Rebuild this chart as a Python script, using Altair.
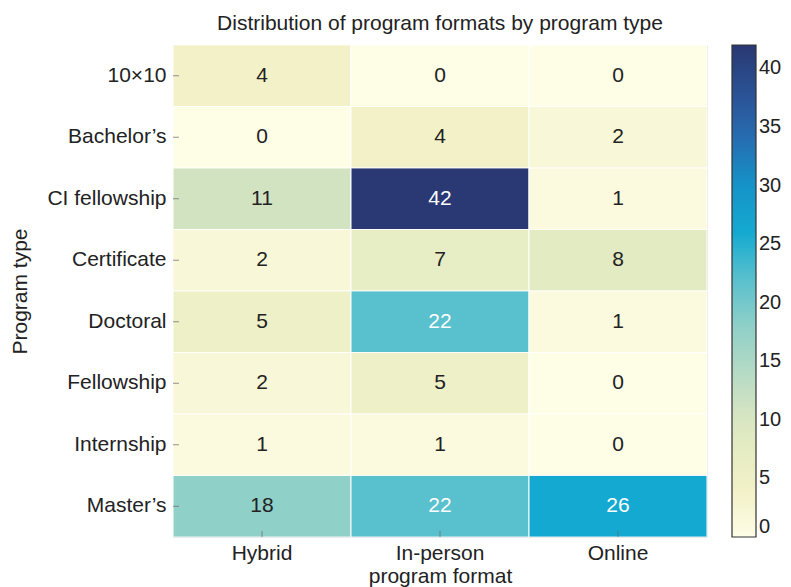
import altair as alt
import pandas as pd

program_types = ["10×10", "Bachelor’s", "CI fellowship", "Certificate",
                 "Doctoral", "Fellowship", "Internship", "Master’s"]
formats = ["Hybrid", "In-person", "Online"]
hybrid = [4, 0, 11, 2, 5, 2, 1, 18]
in_person = [0, 4, 42, 7, 22, 5, 1, 22]
online = [0, 2, 1, 8, 1, 0, 0, 26]

rows = []
for i, t in enumerate(program_types):
    for f, vals in zip(formats, [hybrid, in_person, online]):
        rows.append({"type": t, "format": f, "count": vals[i]})
df = pd.DataFrame(rows)

color_domain = [0, 4, 8, 11, 18, 22, 26, 30, 35, 42]
color_range = ["#fefde6", "#f2f1c8", "#e3ebc2", "#d2e3c2", "#8fd0c8",
               "#59c0cd", "#14a9d0", "#1593c8", "#2a64ab", "#2a3873"]

W, H = 534, 492
FONT = "Liberation Sans"
FS = 21

x_enc = alt.X("format:N", sort=formats, scale=alt.Scale(paddingInner=0, paddingOuter=0),
              axis=alt.Axis(title="program format", labelAngle=0, ticks=False, domain=False,
                            labelFontSize=FS, labelPadding=5, labelColor="#222",
                            titleFontSize=FS, titleFontWeight="normal", titleColor="#222",
                            titleBaseline="top", titleY=28))
y_enc = alt.Y("type:N", sort=program_types, scale=alt.Scale(paddingInner=0, paddingOuter=0),
              axis=alt.Axis(title="Program type", ticks=False, domain=False,
                            labelFontSize=FS, labelPadding=7, labelColor="#222",
                            titleFontSize=FS, titleFontWeight="normal", titleColor="#222",
                            titleAngle=-90, titleX=-153, titleY=H / 2,
                            titleBaseline="middle", titleAlign="center"))

base = alt.Chart(df)

rects = base.mark_rect(stroke="white", strokeWidth=1.2, strokeOpacity=0.85).encode(
    x=x_enc, y=y_enc,
    color=alt.Color("count:Q",
                    scale=alt.Scale(domain=color_domain, range=color_range, interpolate="rgb"),
                    legend=alt.Legend(title=None, gradientLength=H, gradientThickness=24,
                                      gradientStrokeColor="#333", gradientStrokeWidth=1.2,
                                      labelFontSize=20, labelColor="#222", labelFont=FONT,
                                      values=[0, 5, 10, 15, 20, 25, 30, 35, 40],
                                      labelOverlap=False, offset=25, padding=0,
                                      labelOffset=3, direction="vertical")),
)

texts = base.mark_text(fontSize=FS, font=FONT).encode(
    x=alt.X("format:N", sort=formats),
    y=alt.Y("type:N", sort=program_types),
    text="count:Q",
    color=alt.condition(alt.datum.count > 20, alt.value("white"), alt.value("#222")),
)

xticks = alt.Chart(pd.DataFrame({"format": formats})).mark_tick(
    orient="vertical", color="#666", thickness=1, size=6).encode(
    x=alt.X("format:N", sort=formats), y=alt.value(H - 3))
yticks = alt.Chart(pd.DataFrame({"type": program_types})).mark_tick(
    orient="horizontal", color="#666", thickness=1, size=6).encode(
    y=alt.Y("type:N", sort=program_types), x=alt.value(3))

chart = alt.layer(rects, texts, xticks, yticks).properties(
    width=W, height=H,
    title=alt.Title("Distribution of program formats by program type",
                    fontSize=FS, fontWeight="normal", color="#222", font=FONT, offset=10),
    autosize=alt.AutoSizeParams(type="none"),
    padding={"left": 165, "top": 37, "right": 76, "bottom": 50},
).configure_view(stroke="#333", strokeWidth=1.5).configure(font=FONT).configure_axis(
    labelFont=FONT, titleFont=FONT)

chart.save("out.html", embed_options={"renderer": "svg", "actions": False})
